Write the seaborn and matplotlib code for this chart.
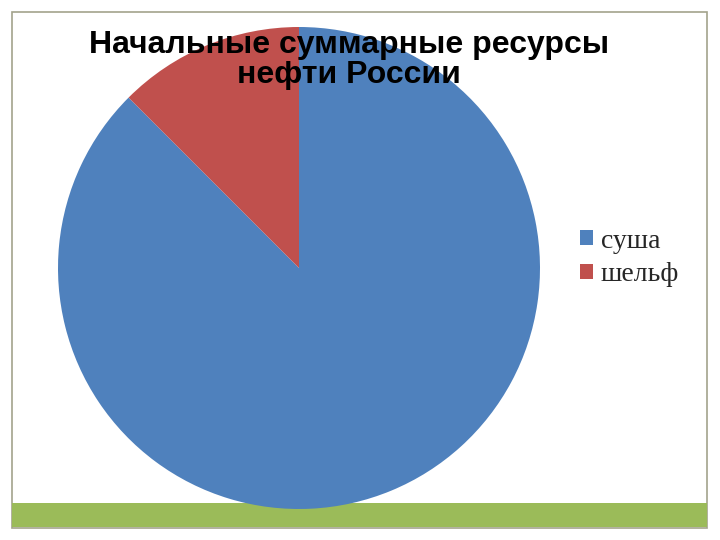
import matplotlib
matplotlib.use("Agg")
import matplotlib.pyplot as plt
import seaborn as sns
from matplotlib.patches import Rectangle

sns.set_theme(style="white")
plt.rcParams['font.family'] = ['Liberation Sans', 'DejaVu Sans']

labels = ['суша', 'шельф']
values = [87.5, 12.5]
colors = ['#4F81BD', '#C0504D']
title = 'Начальные суммарные ресурсы\nнефти России'

W, H = 720, 540
fig = plt.figure(figsize=(7.2, 5.4), dpi=100)
ax = fig.add_axes([0, 0, 1, 1])

# slide frame and green bar at the bottom
ax.add_patch(Rectangle((12, H - 528), 695, 516, fill=False, edgecolor='#a3a38c', lw=1.2, zorder=1))
ax.add_patch(Rectangle((12, H - 527), 695, 24, facecolor='#9BBB59', edgecolor='none', zorder=1))

wedges, _ = ax.pie(values, colors=colors, startangle=90, counterclock=False,
                   center=(299, H - 268), radius=241, frame=True,
                   wedgeprops=dict(linewidth=0))
for w in wedges:
    w.set_zorder(2)
ax.set_xlim(0, W)
ax.set_ylim(0, H)
ax.axis('off')

ax.text(349, H - 60, title, ha='center', va='center', fontsize=23,
        fontweight='bold', color='black', linespacing=1.03, zorder=5)

handles = [Rectangle((0, 0), 1, 1, facecolor=c, edgecolor='none') for c in colors]
leg = fig.legend(handles, labels, loc='center left', bbox_to_anchor=(555 / W, 1 - 258 / H),
                 frameon=False, handlelength=0.45, handleheight=0.45, handletextpad=0.3,
                 labelspacing=0.3, prop={'family': 'Liberation Serif', 'size': 20})

fig.savefig('out.png', dpi=100)
